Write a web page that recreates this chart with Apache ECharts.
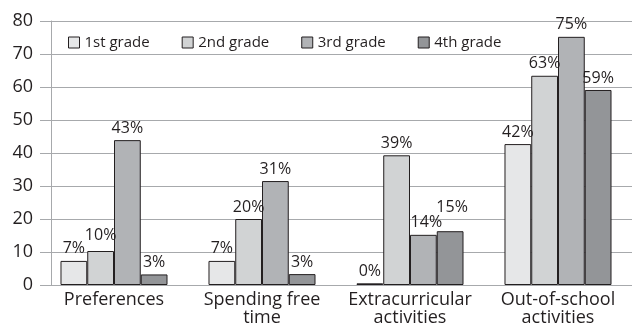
<!DOCTYPE html>
<html>
<head>
<meta charset="utf-8">
<script src="https://cdn.jsdelivr.net/npm/echarts@6/dist/echarts.min.js"></script>
<style>
  html, body { margin: 0; padding: 0; background: #fff; }
  #chart { width: 634px; height: 329px; }
</style>
</head>
<body>
<div id="chart"></div>
<script>
// 类别与数据
var categories = ['Preferences', 'Spending free\ntime', 'Extracurricular\nactivities', 'Out-of-school\nactivities'];
var grades = ['1st grade', '2nd grade', '3rd grade', '4th grade'];
// bar heights
var grade1 = [7.3, 7.3, 0.5, 42.7];
var grade2 = [10.3, 20, 39.3, 63.4];
var grade3 = [43.9, 31.5, 15.2, 75.2];
var grade4 = [3.2, 3.3, 16.3, 59.1];
// printed labels
var label1 = ['7%', '7%', '0%', '42%'];
var label2 = ['10%', '20%', '39%', '63%'];
var label3 = ['43%', '31%', '14%', '75%'];
var label4 = ['3%', '3%', '15%', '59%'];
var yTicks = [0, 10, 20, 30, 40, 50, 60, 70, 80];

var font = '"Open Sans", "Noto Sans", sans-serif';
var colors = ['#e6e7e8', '#d1d3d4', '#b1b3b6', '#939598'];
var values = [grade1, grade2, grade3, grade4];
var labels = [label1, label2, label3, label4];

function makeSeries(i) {
  return {
    name: grades[i],
    type: 'bar',
    barGap: '0%',
    barCategoryGap: '27.7%',
    itemStyle: {
      color: colors[i],
      borderColor: '#231f20',
      borderWidth: 1
    },
    label: {
      show: true,
      position: 'top',
      distance: 4,
      color: '#231f20',
      fontFamily: font,
      fontSize: 16,
      formatter: function (p) { return labels[i][p.dataIndex]; }
    },
    data: values[i].map(function (v, j) {
      var d = { value: v };
      // 15% label sits a bit higher in the original
      if (i === 3 && j === 2) d.label = { offset: [2, -12] };
      if (i === 1 && j === 0) d.label = { offset: [0, -4] };
      if (i === 2 && j === 2) d.label = { offset: [3, 0] };
      if (i === 0 && j === 2) d.itemStyle = { color: '#231f20' };
      return d;
    }),
    animation: false
  };
}

var myChart = echarts.init(document.getElementById('chart'));
var option = {
  animation: false,
  grid: { left: 40, right: 2, top: 21, bottom: 44 },
  legend: {
    left: 63,
    top: 30,
    itemWidth: 11,
    itemHeight: 11,
    itemGap: 32,
    icon: 'rect',
    data: grades,
    itemStyle: { borderColor: '#231f20', borderWidth: 1 },
    textStyle: { color: '#231f20', fontFamily: font, fontSize: 15 }
  },
  xAxis: {
    type: 'category',
    data: categories,
    axisTick: { show: false },
    axisLine: { show: false },
    axisLabel: {
      color: '#231f20',
      fontFamily: font,
      fontSize: 18,
      lineHeight: 18,
      margin: 6,
      interval: 0
    }
  },
  yAxis: {
    type: 'value',
    min: 0,
    max: 80,
    interval: 10,
    offset: -11,
    axisLine: { show: true, lineStyle: { color: '#a7a9ac', width: 1 } },
    axisTick: { show: true, inside: false, length: 11, lineStyle: { color: '#a7a9ac' } },
    splitLine: { show: true, lineStyle: { color: '#a7a9ac', width: 1 } },
    axisLabel: {
      color: '#231f20',
      fontFamily: font,
      fontSize: 18,
      margin: 18,
      formatter: function (v) { return yTicks.indexOf(v) >= 0 ? String(v) : ''; }
    }
  },
  series: [makeSeries(0), makeSeries(1), makeSeries(2), makeSeries(3)]
};
myChart.clear();
myChart.setOption(option);
window.addEventListener('resize', function () {
  myChart.resize();
});
</script>
</body>
</html>
